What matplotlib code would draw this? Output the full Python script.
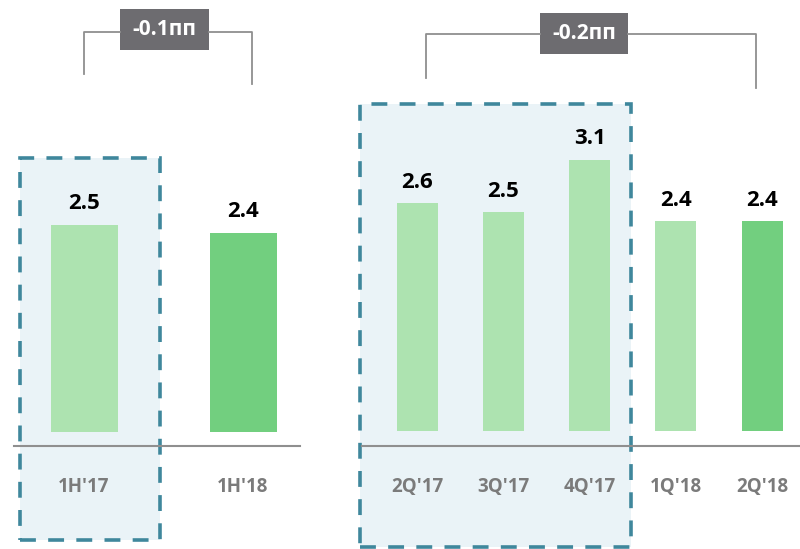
import matplotlib
matplotlib.use("Agg")
import matplotlib.pyplot as plt
from matplotlib.patches import Rectangle
from matplotlib.lines import Line2D

plt.rcParams["font.family"] = ["Open Sans", "DejaVu Sans"]

# данные
half_labels = ["1H'17", "1H'18"]
half_values = [2.5, 2.4]
quarter_labels = ["2Q'17", "3Q'17", "4Q'17", "1Q'18", "2Q'18"]
quarter_values = [2.6, 2.5, 3.1, 2.4, 2.4]
half_change = "-0.1пп"
quarter_change = "-0.2пп"

light = "#ade3b0"
dark = "#72cf7f"
box_edge = "#3f879c"
box_fill = "#eaf3f7"
grey_line = "#8f8f8f"
label_grey = "#7b7b7b"
badge_col = "#6d6c70"

W, H = 800, 549
fig = plt.figure(figsize=(W / 100, H / 100), dpi=100)


def fx(x):
    return x / W


def fy(y):
    return 1 - y / H


def box(x0, y0, x1, y1):
    r = Rectangle((fx(x0), fy(y1)), fx(x1) - fx(x0), fy(y0) - fy(y1),
                  transform=fig.transFigure, facecolor=box_fill, edgecolor=box_edge,
                  lw=2.6, linestyle=(0, (4.4, 3.4)), zorder=-1)
    fig.add_artist(r)


def bracket(xl, xr, y, yl, yr, bx0, bx1, by0, by1, text):
    for xs, ys in [([xl, xl, bx0], [yl, y, y]), ([bx1, xr, xr], [y, y, yr])]:
        fig.add_artist(Line2D([fx(v) for v in xs], [fy(v) for v in ys],
                              transform=fig.transFigure, color=grey_line, lw=1.3))
    fig.add_artist(Rectangle((fx(bx0), fy(by1)), fx(bx1) - fx(bx0), fy(by0) - fy(by1),
                             transform=fig.transFigure, facecolor=badge_col, edgecolor="none"))
    fig.text(fx((bx0 + bx1) / 2), fy((by0 + by1) / 2), text, color="white",
             fontsize=15, fontweight="bold", ha="center", va="center")


box(20, 158, 160, 540)
box(360, 104, 631, 547)

bracket(84, 252, 32, 74, 84, 120, 209, 9, 50, half_change)
bracket(426, 756, 34, 78, 88, 540, 628, 13, 54, quarter_change)


def panel(x0, x1, labels, values, colors, centre0, step, width_px, scale, zero_px):
    ax = fig.add_axes([fx(x0), fy(446), fx(x1) - fx(x0), fy(100) - fy(446)])
    ax.set_facecolor("none")
    pos = list(range(len(values)))
    ax.bar(pos, values, width=width_px / step, color=colors, zorder=2)
    ax.set_xlim(-(centre0 - x0) / step, (x1 - centre0) / step)
    ymin = -(446 - zero_px) / scale
    ax.set_ylim(ymin, ymin + 346 / scale)
    for p, v in zip(pos, values):
        ax.annotate(f"{v:.1f}", (p, v), xytext=(0, 15), textcoords="offset points",
                    ha="center", va="center", fontsize=16, fontweight="bold", color="black")
    for s in ["left", "right", "top"]:
        ax.spines[s].set_visible(False)
    ax.spines["bottom"].set_color(grey_line)
    ax.spines["bottom"].set_linewidth(1.5)
    ax.set_yticks([])
    ax.set_xticks(pos)
    ax.set_xticklabels(labels, fontsize=13.5, fontweight="bold", color=label_grey)
    ax.tick_params(axis="x", length=0, pad=22)
    return ax


panel(14, 300, half_labels, half_values, [light, dark], 84, 159, 67, 83, 432)
panel(362, 800, quarter_labels, quarter_values, [light, light, light, light, dark],
      417, 86.3, 41, 87.5, 431)

fig.savefig("out.png", dpi=100)
